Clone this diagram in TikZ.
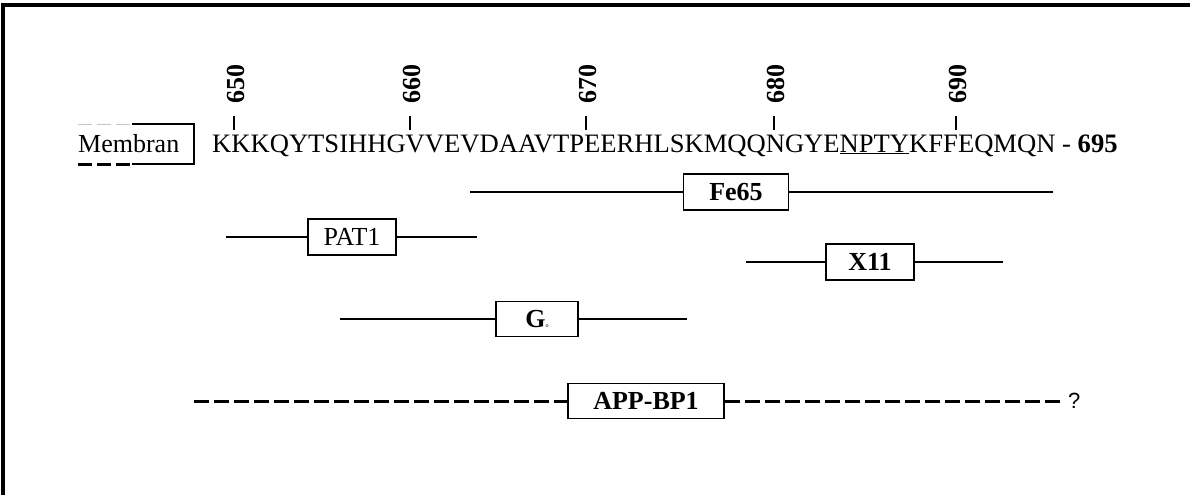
\documentclass[tikz,border=0pt]{standalone}
\usepackage{fontspec}
\setmainfont{Liberation Serif}
\newfontfamily\qfont{Liberation Sans}
\usetikzlibrary{positioning}

\begin{document}
\begin{tikzpicture}[x=1pt,y=-1pt,
  seq/.style={font=\fontsize{26}{30}\selectfont,inner sep=0pt},
  binder/.style={draw,line width=1.8pt,minimum height=36pt,inner sep=0pt,fill=white,
    font=\fontsize{26}{30}\selectfont\bfseries},
  span/.style={line width=1.8pt},
  gap/.style={line width=3pt,dash pattern=on 15pt off 5pt}]
  \useasboundingbox (0,0) rectangle (1190,495);
  \draw[line width=4pt] (3,495) -- (3,5) -- (1190,5);

  % membrane and sequence
  \node[seq,anchor=base west] (mem) at (78,152) {Membran};
  \draw[line width=1.5pt] (132,124) -- (194,124) -- (194,164) -- (132,164);
  \draw[gray!45,line width=1pt,dash pattern=on 14pt off 5pt] (78,124) -- (132,124);
  \draw[line width=3pt,dash pattern=on 14pt off 5pt] (78,164) -- (132,164);
  \node[seq,font=\fontsize{26.6}{30}\selectfont,anchor=base west] (aa) at (212,152)
    {KKKQYTSIHHGVVEVDAAVTPEERHLSKMQQNGYE\underline{NPTY}KFFEQMQN - \textbf{695}};
  \foreach \pos/\x in {650/234,660/410,670/586,680/774,690/956}{
    \draw[line width=1.5pt] (\x,116) -- (\x,130);
    \node[rotate=90,anchor=west,inner sep=0pt,font=\fontsize{26}{30}\selectfont\bfseries] (n\pos) at (\x+2,104) {\pos};
  }

  % binding partners
  \node[binder,minimum width=105pt] (fe) at (736,192) {Fe65};
  \coordinate (fe-a) at (470,192); \coordinate (fe-b) at (1053,192);
  \draw[span] (fe-a) -- (fe); \draw[span] (fe) -- (fe-b);

  \node[binder,minimum width=88pt,font=\fontsize{26}{30}\selectfont] (pat) at (352,237) {PAT1};
  \coordinate (pat-a) at (226,237); \coordinate (pat-b) at (477,237);
  \draw[span] (pat-a) -- (pat); \draw[span] (pat) -- (pat-b);

  \node[binder,minimum width=88pt] (x11) at (870,262) {X11};
  \coordinate (x11-a) at (746,262); \coordinate (x11-b) at (1003,262);
  \draw[span] (x11-a) -- (x11); \draw[span] (x11) -- (x11-b);

  \node[binder,minimum width=82pt,minimum height=35pt] (go) at (537,319) {G{\mdseries\fontsize{6}{6}\selectfont o}};
  \coordinate (go-a) at (340,319); \coordinate (go-b) at (687,319);
  \draw[span] (go-a) -- (go); \draw[span] (go) -- (go-b);

  \node[binder,minimum width=156pt,minimum height=35pt] (bp) at (646,401) {APP-BP1};
  \coordinate (bp-a) at (194,401); \coordinate (bp-b) at (1062,401);
  \draw[gap] (bp-a) -- (bp); \draw[gap] (bp) -- (bp-b);
  \node[font=\qfont\fontsize{22}{24}\selectfont,anchor=west,inner sep=0pt] (q) at (1068,401) {?};
\end{tikzpicture}
\end{document}
